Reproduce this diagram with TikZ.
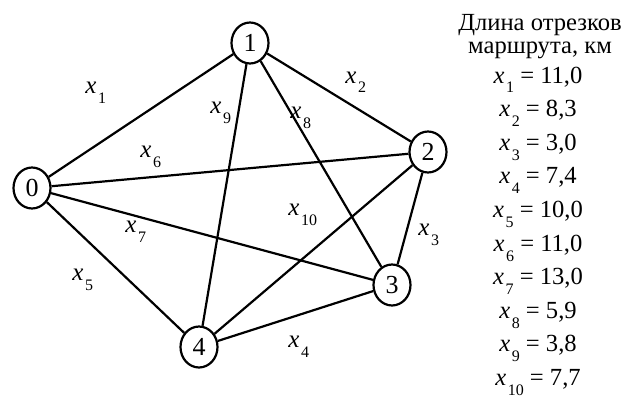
\documentclass[tikz,border=0pt]{standalone}
\usepackage{fontspec}
\setmainfont{Liberation Serif}
\usetikzlibrary{shapes.geometric}
\newcommand{\xsub}[1]{\textit{x}\kern0.8pt\raisebox{-5pt}{\fontsize{8}{8}\selectfont #1}}

\begin{document}
\begin{tikzpicture}[
    x=0.5pt, y=-0.5pt,
    vertex/.style={draw, ellipse, line width=1.1pt, minimum width=18.5pt, minimum height=20.5pt, inner sep=0pt, font=\fontsize{13}{15}\selectfont},
    edgelabel/.style={anchor=base west, inner sep=0pt, font=\fontsize{12.5}{14}\selectfont},
    tablerow/.style={anchor=base, inner sep=0pt, font=\fontsize{12.3}{14}\selectfont},
    edge/.style={line width=1.1pt}
]
\useasboundingbox (0,0) rectangle (626,396);
% vertices of the route graph
\node (v0) [vertex] at (32,188) {0};
\node (v1) [vertex] at (250,43) {1};
\node (v2) [vertex] at (428,152) {2};
\node (v3) [vertex] at (392,285) {3};
\node (v4) [vertex] at (199,347) {4};
\foreach \a/\b in {v0/v1, v1/v2, v2/v3, v3/v4, v4/v0, v0/v2, v0/v3, v1/v3, v1/v4, v2/v4}
  \draw[edge] (\a) -- (\b);
% segment labels
\node (lx1) [edgelabel] at (85,93) {\xsub{1}};
\node (lx2) [edgelabel] at (345,83) {\xsub{2}};
\node (lx3) [edgelabel] at (418,235) {\xsub{3}};
\node (lx4) [edgelabel] at (288,347) {\xsub{4}};
\node (lx5) [edgelabel] at (72,280) {\xsub{5}};
\node (lx6) [edgelabel] at (140,157) {\xsub{6}};
\node (lx7) [edgelabel] at (125,232) {\xsub{7}};
\node (lx8) [edgelabel] at (290,118) {\xsub{8}};
\node (lx9) [edgelabel] at (210,113) {\xsub{9}};
\node (lx10) [edgelabel] at (288,215) {\xsub{10}};
% table of lengths
\node (head1) [tablerow] at (540,30) {Длина отрезков};
\node (head2) [tablerow] at (540,54) {маршрута, км};
\foreach \i/\v [count=\k from 0] in {1/{11,0}, 2/{8,3}, 3/{3,0}, 4/{7,4}, 5/{10,0}, 6/{11,0}, 7/{13,0}, 8/{5,9}, 9/{3,8}, 10/{7,7}}
  \node (len\i) [tablerow] at (538,83+33.6*\k) {\xsub{\i} = \v};
\end{tikzpicture}
\end{document}
